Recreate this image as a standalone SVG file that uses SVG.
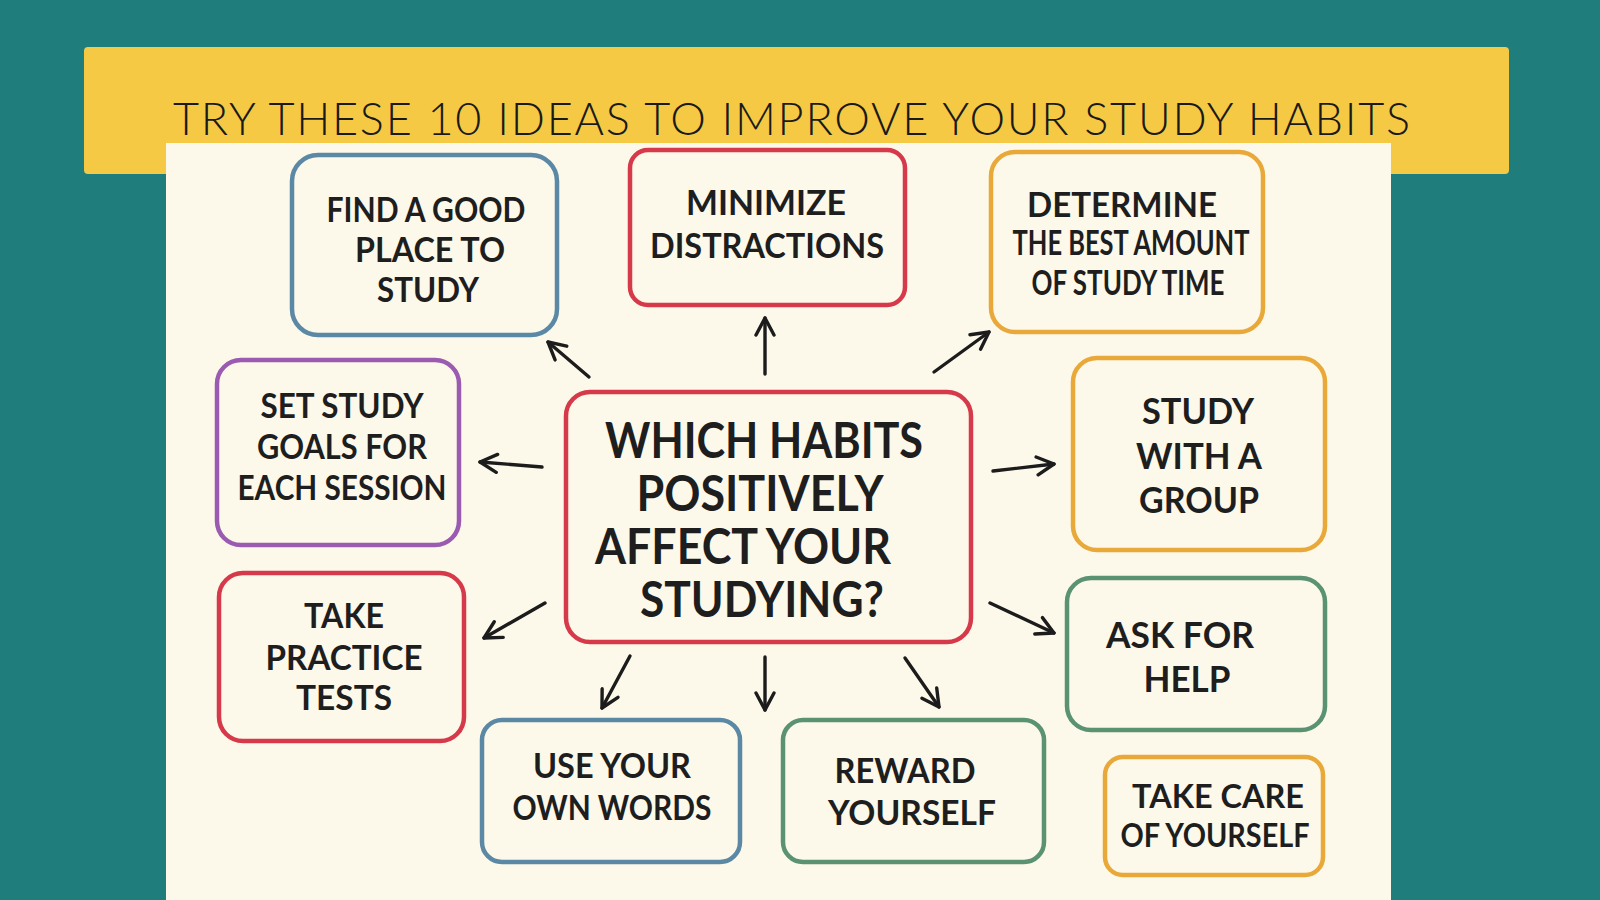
<svg xmlns="http://www.w3.org/2000/svg" width="1600" height="900" viewBox="0 0 1600 900">
  <defs>
    <marker id="ah" viewBox="0 0 22 22" refX="19" refY="11" markerWidth="22" markerHeight="22" markerUnits="userSpaceOnUse" orient="auto">
      <path d="M2,2 L19,11 L2,20" fill="none" stroke="#1c1c1c" stroke-width="3.4" stroke-linecap="round" stroke-linejoin="round"/>
    </marker>
    <style>
      .box { fill: #fdf9ea; stroke-width: 4.5; }
      .blue { stroke: #5b88a5; }
      .red { stroke: #d63a4a; }
      .orange { stroke: #e9a93a; }
      .purple { stroke: #9a5bb0; }
      .green { stroke: #5a9272; }
      .t { font-family: Lato, "Open Sans", "Liberation Sans", sans-serif; font-weight: 700; fill: #1e1e1e; text-anchor: middle; }
      .title { font-family: Lato, "Noto Sans", "DejaVu Sans", sans-serif; font-weight: 300; fill: #1a1a1a; font-size: 45px; }
      .conn path { fill: none; stroke: #1c1c1c; stroke-width: 3.4; stroke-linecap: round; marker-end: url(#ah); }
    </style>
  </defs>

  <rect x="0" y="0" width="1600" height="900" fill="#1f7d7c"/>
  <rect x="84" y="47" width="1425" height="127" rx="4" fill="#f6c944"/>
  <rect x="166" y="143" width="1225" height="757" fill="#fdf9ea"/>
  <text class="title" x="173" y="135" textLength="1237" lengthAdjust="spacing">TRY THESE 10 IDEAS TO IMPROVE YOUR STUDY HABITS</text>

  <g id="center">
    <rect class="box red" x="566" y="392" width="405" height="250" rx="24"/>
    <text class="t" font-size="49"><tspan x="764" y="458" textLength="318" lengthAdjust="spacingAndGlyphs">WHICH HABITS</tspan><tspan x="760" y="511" textLength="247" lengthAdjust="spacingAndGlyphs">POSITIVELY</tspan><tspan x="743" y="564" textLength="296" lengthAdjust="spacingAndGlyphs">AFFECT YOUR</tspan><tspan x="762" y="617" textLength="244" lengthAdjust="spacingAndGlyphs">STUDYING?</tspan></text>
  </g>

  <g id="find-place">
    <rect class="box blue" x="292" y="155" width="265" height="180" rx="26"/>
    <text class="t" font-size="35"><tspan x="426" y="222" textLength="199" lengthAdjust="spacingAndGlyphs">FIND A GOOD</tspan><tspan x="430" y="262" textLength="150" lengthAdjust="spacingAndGlyphs">PLACE TO</tspan><tspan x="428" y="302" textLength="102" lengthAdjust="spacingAndGlyphs">STUDY</tspan></text>
  </g>

  <g id="minimize">
    <rect class="box red" x="630" y="150" width="275" height="155" rx="18"/>
    <text class="t" font-size="35"><tspan x="766" y="215" textLength="160" lengthAdjust="spacingAndGlyphs">MINIMIZE</tspan><tspan x="767" y="258" textLength="234" lengthAdjust="spacingAndGlyphs">DISTRACTIONS</tspan></text>
  </g>

  <g id="determine">
    <rect class="box orange" x="991" y="152" width="272" height="180" rx="24"/>
    <text class="t" font-size="35"><tspan x="1122" y="217" textLength="190" lengthAdjust="spacingAndGlyphs">DETERMINE</tspan><tspan x="1131" y="255" textLength="237" lengthAdjust="spacingAndGlyphs">THE BEST AMOUNT</tspan><tspan x="1128" y="295" textLength="193" lengthAdjust="spacingAndGlyphs">OF STUDY TIME</tspan></text>
  </g>

  <g id="group">
    <rect class="box orange" x="1073" y="358" width="252" height="192" rx="24"/>
    <text class="t" font-size="37"><tspan x="1198" y="424" textLength="112" lengthAdjust="spacingAndGlyphs">STUDY</tspan><tspan x="1199" y="469" textLength="126" lengthAdjust="spacingAndGlyphs">WITH A</tspan><tspan x="1199" y="513" textLength="120" lengthAdjust="spacingAndGlyphs">GROUP</tspan></text>
  </g>

  <g id="help">
    <rect class="box green" x="1067" y="578" width="258" height="152" rx="24"/>
    <text class="t" font-size="37"><tspan x="1180" y="648" textLength="148" lengthAdjust="spacingAndGlyphs">ASK FOR</tspan><tspan x="1187" y="692" textLength="87" lengthAdjust="spacingAndGlyphs">HELP</tspan></text>
  </g>

  <g id="care">
    <rect class="box orange" x="1105" y="757" width="218" height="118" rx="18"/>
    <text class="t" font-size="32"><tspan x="1218" y="808" textLength="172" lengthAdjust="spacingAndGlyphs">TAKE CARE</tspan><tspan x="1215" y="847" textLength="189" lengthAdjust="spacingAndGlyphs">OF YOURSELF</tspan></text>
  </g>

  <g id="reward">
    <rect class="box green" x="783" y="720" width="261" height="142" rx="20"/>
    <text class="t" font-size="35"><tspan x="905" y="783" textLength="141" lengthAdjust="spacingAndGlyphs">REWARD</tspan><tspan x="912" y="825" textLength="168" lengthAdjust="spacingAndGlyphs">YOURSELF</tspan></text>
  </g>

  <g id="own-words">
    <rect class="box blue" x="482" y="720" width="258" height="142" rx="20"/>
    <text class="t" font-size="35"><tspan x="612" y="778" textLength="158" lengthAdjust="spacingAndGlyphs">USE YOUR</tspan><tspan x="612" y="820" textLength="199" lengthAdjust="spacingAndGlyphs">OWN WORDS</tspan></text>
  </g>

  <g id="practice">
    <rect class="box red" x="219" y="573" width="245" height="168" rx="24"/>
    <text class="t" font-size="35"><tspan x="344" y="628" textLength="80" lengthAdjust="spacingAndGlyphs">TAKE</tspan><tspan x="344" y="670" textLength="157" lengthAdjust="spacingAndGlyphs">PRACTICE</tspan><tspan x="344" y="710" textLength="96" lengthAdjust="spacingAndGlyphs">TESTS</tspan></text>
  </g>

  <g id="goals">
    <rect class="box purple" x="217" y="360" width="242" height="185" rx="24"/>
    <text class="t" font-size="35"><tspan x="342" y="418" textLength="163" lengthAdjust="spacingAndGlyphs">SET STUDY</tspan><tspan x="342" y="459" textLength="170" lengthAdjust="spacingAndGlyphs">GOALS FOR</tspan><tspan x="342" y="500" textLength="209" lengthAdjust="spacingAndGlyphs">EACH SESSION</tspan></text>
  </g>

  <g id="connectors" class="conn">
    <path d="M589,377 L548,342"/>
    <path d="M765,374 L765,318"/>
    <path d="M934,372 L989,332"/>
    <path d="M542,467 L480,462"/>
    <path d="M545,603 L484,638"/>
    <path d="M630,656 L602,708"/>
    <path d="M765,657 L765,710"/>
    <path d="M905,658 L939,707"/>
    <path d="M993,471 L1054,464"/>
    <path d="M990,603 L1054,633"/>
  </g>
</svg>
